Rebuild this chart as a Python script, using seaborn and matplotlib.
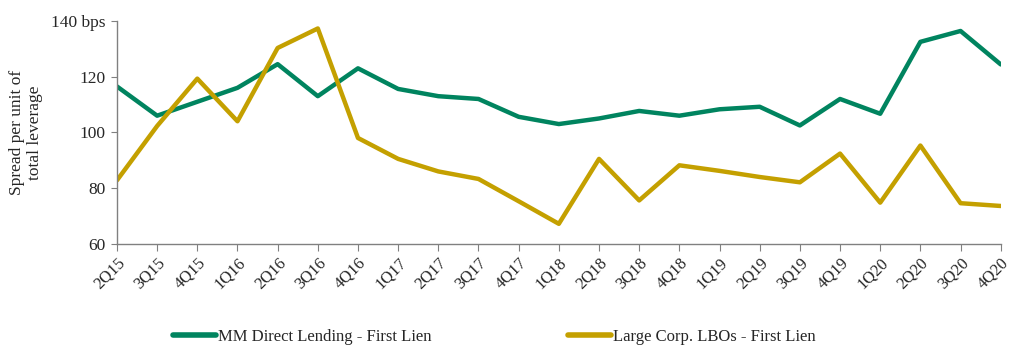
import pandas as pd
import seaborn as sns
import matplotlib.pyplot as plt

quarters = ["2Q15", "3Q15", "4Q15", "1Q16", "2Q16", "3Q16", "4Q16", "1Q17",
            "2Q17", "3Q17", "4Q17", "1Q18", "2Q18", "3Q18", "4Q18", "1Q19",
            "2Q19", "3Q19", "4Q19", "1Q20", "2Q20", "3Q20", "4Q20"]

mm_direct = [116.5, 106, 111, 116, 124.5, 113, 123, 115.6, 113, 112, 105.6, 103,
             105, 107.7, 106, 108.3, 109.2, 102.5, 112, 106.7, 132.5, 136.4, 124.4]
large_corp = [82.8, 102.3, 119.3, 104, 130.3, 137.3, 98, 90.5, 86, 83.3, 75.3, 67.2,
              90.5, 75.6, 88.2, 86.2, 84, 82.1, 92.4, 74.8, 95.3, 74.6, 73.6]

series_names = ["MM Direct Lending - First Lien", "Large Corp. LBOs - First Lien"]
colors = ["#00845F", "#C4A000"]

df = pd.DataFrame({
    "quarter": quarters * 2,
    "spread": mm_direct + large_corp,
    "series": [series_names[0]] * len(quarters) + [series_names[1]] * len(quarters),
})
df["pos"] = list(range(len(quarters))) * 2

sns.set_style("white")
plt.rcParams["font.family"] = ["Liberation Serif", "DejaVu Serif"]

fig = plt.figure(figsize=(10.17, 3.55), dpi=100)
ax = fig.add_axes([0.115, 0.313, 0.869, 0.628])

sns.lineplot(data=df, x="pos", y="spread", hue="series", hue_order=series_names,
             palette=colors, linewidth=3.2, ax=ax, legend=False)

ax.set_xlim(0, len(quarters) - 1)
ax.set_ylim(60, 140)
ax.set_xticks(range(len(quarters)))
ax.set_xticklabels(quarters, rotation=45, ha="right", rotation_mode="anchor", fontsize=12)
ax.set_yticks([60, 80, 100, 120, 140])
ax.set_yticklabels(["60", "80", "100", "120", "140 bps"], fontsize=12.5)
ax.set_xlabel("")
ax.set_ylabel("Spread per unit of\ntotal leverage", fontsize=12.5, labelpad=6)

for side in ["top", "right"]:
    ax.spines[side].set_visible(False)
for side in ["left", "bottom"]:
    ax.spines[side].set_color("#808080")
    ax.spines[side].set_linewidth(1)
ax.tick_params(axis="x", direction="out", length=5, color="#808080", bottom=True, pad=3)
ax.tick_params(axis="y", direction="out", length=4, color="#808080", left=True, pad=4)

handles = [plt.Line2D([], [], color=c, linewidth=4) for c in colors]
fig.legend(handles, series_names, loc="center", bbox_to_anchor=(0.486, 0.05), ncol=2,
           frameon=False, fontsize=12, handlelength=2.6, handletextpad=0.1,
           columnspacing=8.2)

fig.savefig("out.png", dpi=100)
